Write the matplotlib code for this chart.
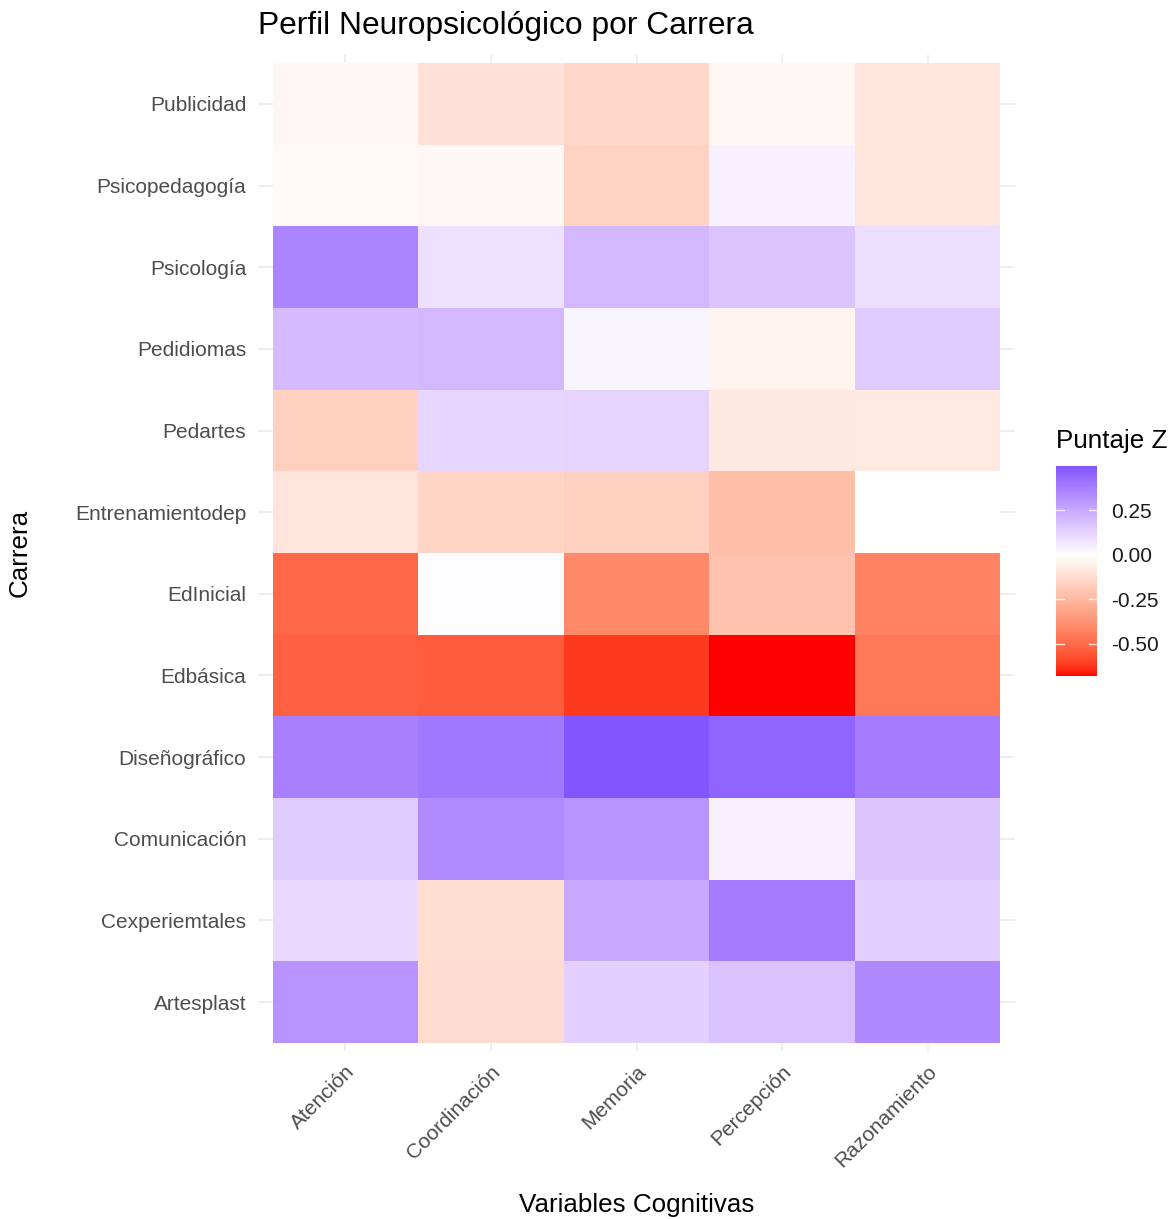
import numpy as np
import matplotlib
matplotlib.use("Agg")
import matplotlib.pyplot as plt
from matplotlib.colors import ListedColormap, Normalize

plt.rcParams['font.family'] = ['Liberation Sans', 'DejaVu Sans']

# ---------------- data ----------------
carreras = ["Artesplast", "Cexperiemtales", "Comunicación", "Diseñográfico",
            "Edbásica", "EdInicial", "Entrenamientodep", "Pedartes",
            "Pedidiomas", "Psicología", "Psicopedagogía", "Publicidad"]
variables = ["Atención", "Coordinación", "Memoria", "Percepción", "Razonamiento"]

atencion     = [0.32, 0.11, 0.15, 0.375, -0.53, -0.51, -0.095, -0.17, 0.20, 0.36, -0.02, -0.03]
coordinacion = [-0.125, -0.12, 0.345, 0.40, -0.54, 0.01, -0.15, 0.117, 0.21, 0.085, -0.03, -0.105]
memoria      = [0.135, 0.25, 0.32, 0.50, -0.62, -0.41, -0.17, 0.126, 0.03, 0.21, -0.155, -0.14]
percepcion   = [0.18, 0.39, 0.045, 0.46, -0.68, -0.215, -0.23, -0.08, -0.04, 0.17, 0.04, -0.03]
razonamiento = [0.35, 0.135, 0.17, 0.39, -0.46, -0.43, 0.0, -0.075, 0.15, 0.096, -0.09, -0.09]

colorbar_ticks = [-0.50, -0.25, 0.00, 0.25]

# ---------------- colour scale (Lab interpolation, like scale_fill_gradient2) ----------------
def srgb_to_lab(rgb):
    rgb = np.asarray(rgb, float)
    lin = np.where(rgb <= 0.04045, rgb / 12.92, ((rgb + 0.055) / 1.055) ** 2.4)
    M = np.array([[0.4124, 0.3576, 0.1805],
                  [0.2126, 0.7152, 0.0722],
                  [0.0193, 0.1192, 0.9505]])
    xyz = M @ lin
    wp = np.array([0.95047, 1.0, 1.08883])
    r = xyz / wp
    f = np.where(r > 0.008856, np.cbrt(r), 7.787 * r + 16 / 116)
    L = 116 * f[1] - 16
    a = 500 * (f[0] - f[1])
    b = 200 * (f[1] - f[2])
    return np.array([L, a, b])

def lab_to_srgb(lab):
    L, a, b = lab
    fy = (L + 16) / 116
    fx = fy + a / 500
    fz = fy - b / 200
    f = np.array([fx, fy, fz])
    r = np.where(f ** 3 > 0.008856, f ** 3, (f - 16 / 116) / 7.787)
    wp = np.array([0.95047, 1.0, 1.08883])
    xyz = r * wp
    Minv = np.array([[3.2406, -1.5372, -0.4986],
                     [-0.9689, 1.8758, 0.0415],
                     [0.0557, -0.2040, 1.0570]])
    lin = np.clip(Minv @ xyz, 0, 1)
    srgb = np.where(lin <= 0.0031308, 12.92 * lin, 1.055 * lin ** (1 / 2.4) - 0.055)
    return np.clip(srgb, 0, 1)

low_lab = srgb_to_lab([1, 0, 0])
mid_lab = srgb_to_lab([1, 1, 1])
high_lab = srgb_to_lab([0, 0, 1])
N = 1024
cols = []
for s in np.linspace(0, 1, N):
    if s < 0.5:
        t = (0.5 - s) / 0.5
        lab = mid_lab + t * (low_lab - mid_lab)
    else:
        t = (s - 0.5) / 0.5
        lab = mid_lab + t * (high_lab - mid_lab)
    cols.append(lab_to_srgb(lab))
cmap = ListedColormap(cols)

Z = np.array([atencion, coordinacion, memoria, percepcion, razonamiento]).T  # rows=carreras
vmin_d, vmax_d = Z.min(), Z.max()
M = max(abs(vmin_d), abs(vmax_d))
norm = Normalize(vmin=-M, vmax=M)

# ---------------- figure ----------------
W, H = 1172, 1219
fig = plt.figure(figsize=(W / 100, H / 100), dpi=100)
fig.patch.set_facecolor('white')

px_l, px_r, px_t, px_b = 258, 1015, 55, 1051
ax = fig.add_axes([px_l / W, 1 - px_b / H, (px_r - px_l) / W, (px_b - px_t) / H])

xe = np.arange(len(variables) + 1) - 0.5
ye = np.arange(len(carreras) + 1) - 0.5
ax.pcolormesh(xe, ye, Z, cmap=cmap, norm=norm, shading='flat', antialiased=False,
              edgecolors='none', zorder=2)
ax.set_xlim(-0.6, len(variables) - 0.4)
ax.set_ylim(-0.6, len(carreras) - 0.4)
ax.set_xticks(range(len(variables)))
ax.set_xticklabels(variables, rotation=45, ha='right', va='top', rotation_mode='anchor',
                   fontsize=15, color='#4D4D4D')
ax.set_yticks(range(len(carreras)))
ax.set_yticklabels(carreras, fontsize=15, color='#4D4D4D')
ax.tick_params(axis='both', length=0)
ax.tick_params(axis='y', pad=8.5)
ax.tick_params(axis='x', pad=8)
ax.grid(True, color='#EBEBEB', linewidth=1.2, zorder=0)
ax.set_axisbelow(True)
for sp in ax.spines.values():
    sp.set_visible(False)
ax.set_facecolor('white')

# titles
fig.text(px_l / W, 1 - 26 / H, "Perfil Neuropsicológico por Carrera", ha='left', va='center',
         fontsize=22.9, color='black')
fig.text(636.5 / W, 1 - 1205 / H, "Variables Cognitivas", ha='center', va='center',
         fontsize=18.7, color='black')
fig.text(20 / W, 1 - 553 / H, "Carrera", ha='center', va='center', rotation=90,
         fontsize=18.7, color='black')

# legend / colourbar
cb_l, cb_r, cb_t, cb_b = 1056, 1097, 466, 676
cax = fig.add_axes([cb_l / W, 1 - cb_b / H, (cb_r - cb_l) / W, (cb_b - cb_t) / H])
grad = np.linspace(vmin_d, vmax_d, 400).reshape(-1, 1)
cax.imshow(grad, cmap=cmap, norm=norm, aspect='auto', origin='lower',
           extent=[0, 1, vmin_d, vmax_d], interpolation='bilinear')
cax.set_xlim(0, 1)
cax.set_ylim(vmin_d, vmax_d)
for v in colorbar_ticks:
    cax.plot([0, 0.2], [v, v], color='white', lw=1.0, alpha=0.8)
    cax.plot([0.8, 1.0], [v, v], color='white', lw=1.0, alpha=0.8)
cax.set_xticks([])
cax.yaxis.tick_right()
cax.set_yticks(colorbar_ticks)
cax.set_yticklabels([f"{v:.2f}" for v in colorbar_ticks], fontsize=15, color='#1A1A1A')
cax.tick_params(axis='y', length=0, pad=10)
for sp in cax.spines.values():
    sp.set_visible(False)
fig.text(cb_l / W, 1 - 441 / H, "Puntaje Z", ha='left', va='center', fontsize=18.7, color='black')

fig.savefig("out.png", dpi=100, facecolor='white')
